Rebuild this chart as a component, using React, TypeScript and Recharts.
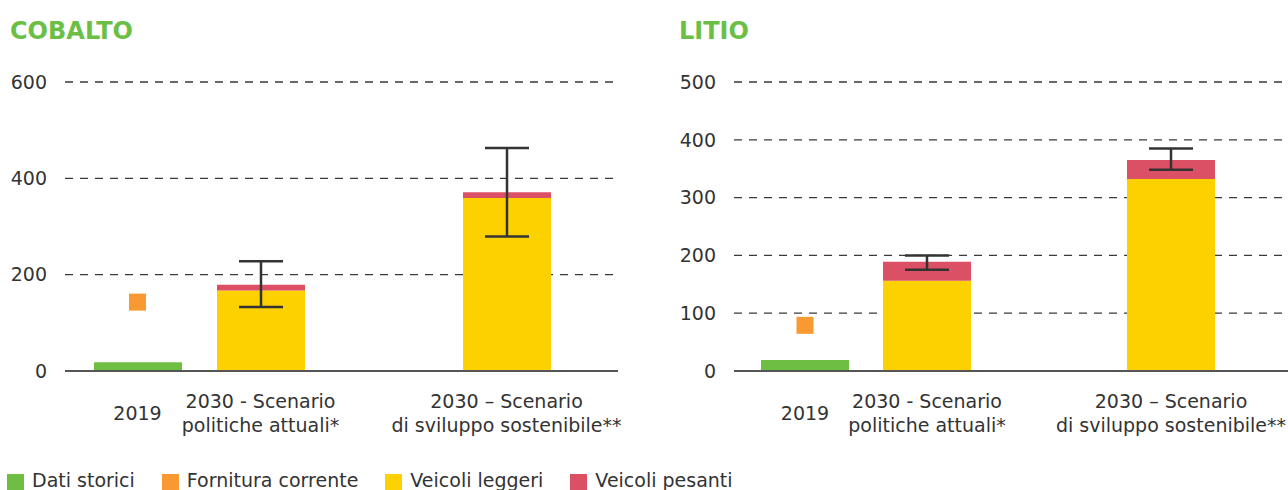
import {
  ComposedChart,
  Bar,
  Scatter,
  XAxis,
  YAxis,
  CartesianGrid,
  ErrorBar,
} from "recharts";

const categories = [
  "2019",
  "2030 - Scenario\npolitiche attuali*",
  "2030 – Scenario\ndi sviluppo sostenibile**",
];

// COBALTO
const cobaltStorici = [18, null, null];
const cobaltFornitura = [143, null, null];
const cobaltLeggeri = [null, 167, 359];
const cobaltPesanti = [null, 12, 12];
const cobaltErr = [null, [46, 49], [92, 92]];
const cobaltTicks = [0, 200, 400, 600];

// LITIO
const litioStorici = [19, null, null];
const litioFornitura = [79, null, null];
const litioLeggeri = [null, 156, 332];
const litioPesanti = [null, 33, 33];
const litioErr = [null, [14, 11], [17, 20]];
const litioTicks = [0, 100, 200, 300, 400, 500];

const series = [
  { key: "storici", name: "Dati storici", color: "#6fbe44" },
  { key: "fornitura", name: "Fornitura corrente", color: "#f89a31" },
  { key: "leggeri", name: "Veicoli leggeri", color: "#fdd100" },
  { key: "pesanti", name: "Veicoli pesanti", color: "#db5064" },
];

const font = "'DejaVu Sans', sans-serif";
const textColor = "#333";

// the two 2030 scenarios sit further apart than 2019 and the first scenario,
// so an empty slot goes in before the last category
function buildRows(storici, fornitura, leggeri, pesanti, err) {
  const rows: any[] = [];
  categories.forEach((cat, i) => {
    if (i === categories.length - 1) rows.push({ cat: "" });
    rows.push({
      cat,
      storici: storici[i],
      fornitura: fornitura[i],
      leggeri: leggeri[i],
      pesanti: pesanti[i],
      err: err[i],
    });
  });
  return rows;
}

const cobaltRows = buildRows(cobaltStorici, cobaltFornitura, cobaltLeggeri, cobaltPesanti, cobaltErr);
const litioRows = buildRows(litioStorici, litioFornitura, litioLeggeri, litioPesanti, litioErr);

function CatTick(props: any) {
  const { x, y, payload } = props;
  const lines = String(payload.value).split("\n");
  const first = lines.length === 1 ? 49 : 37;
  return (
    <text x={x} y={y} textAnchor="middle" fill={textColor} fontSize={19}>
      {lines.map((l, i) => (
        <tspan key={i} x={x} y={y + first + i * 24}>
          {l}
        </tspan>
      ))}
    </text>
  );
}

function Square(props: any) {
  const { cx, cy } = props;
  if (cy == null || isNaN(cy)) return <g />;
  return <rect x={cx - 8.5} y={cy - 8.5} width={17} height={17} fill="#f89a31" />;
}

function Panel({ rows, ticks, max, width, yWidth, marginRight, padding }) {
  return (
    <ComposedChart
      width={width}
      height={460}
      data={rows}
      margin={{ top: 82, right: marginRight, bottom: 29, left: 0 }}
    >
      <CartesianGrid vertical={false} stroke="#3a3a3a" strokeDasharray="8 7" strokeWidth={1.3} />
      <XAxis
        dataKey="cat"
        height={60}
        interval={0}
        tickLine={false}
        tickSize={0}
        tickMargin={0}
        padding={padding}
        axisLine={{ stroke: "#555", strokeWidth: 2 }}
        tick={<CatTick />}
      />
      <YAxis
        type="number"
        domain={[0, max]}
        ticks={ticks}
        width={yWidth}
        axisLine={false}
        tickLine={false}
        tickSize={0}
        tickMargin={18}
        tick={{ fontSize: 19, fill: textColor }}
      />
      <Bar dataKey="storici" stackId="s" fill={series[0].color} barSize={88} isAnimationActive={false} />
      <Bar dataKey="leggeri" stackId="s" fill={series[2].color} barSize={88} isAnimationActive={false} />
      <Bar dataKey="pesanti" stackId="s" fill={series[3].color} barSize={88} isAnimationActive={false}>
        <ErrorBar dataKey="err" width={22} strokeWidth={2.5} stroke="#333" />
      </Bar>
      <Scatter dataKey="fornitura" shape={<Square />} isAnimationActive={false} />
    </ComposedChart>
  );
}

const titleStyle: any = {
  position: "absolute",
  top: 19,
  color: "#6cbf45",
  fontWeight: "bold",
  fontSize: 24,
  lineHeight: "24px",
};

export default function App() {
  return (
    <div
      style={{
        position: "absolute",
        left: 0,
        top: 0,
        width: 1288,
        height: 490,
        overflow: "hidden",
        background: "#fff",
        fontFamily: font,
      }}
    >
      <div style={{ position: "absolute", left: 0, top: 0 }}>
        <Panel
          rows={cobaltRows}
          ticks={cobaltTicks}
          max={600}
          width={640}
          yWidth={65}
          marginRight={22}
          padding={{ left: 11, right: 50 }}
        />
      </div>
      <div style={{ position: "absolute", left: 660, top: 0 }}>
        <Panel
          rows={litioRows}
          ticks={litioTicks}
          max={500}
          width={628}
          yWidth={74}
          marginRight={0}
          padding={{ left: 10, right: 56 }}
        />
      </div>
      <div style={{ ...titleStyle, left: 10 }}>COBALTO</div>
      <div style={{ ...titleStyle, left: 679 }}>LITIO</div>
      <div
        style={{
          position: "absolute",
          left: 7,
          top: 474,
          display: "flex",
          alignItems: "center",
          fontSize: 19,
          color: textColor,
        }}
      >
        {series.map((s) => (
          <div key={s.key} style={{ display: "flex", alignItems: "center", marginRight: 27 }}>
            <div style={{ width: 17, height: 17, background: s.color, marginRight: 8 }} />
            <span style={{ lineHeight: "17px", whiteSpace: "nowrap", position: "relative", top: -2 }}>
              {s.name}
            </span>
          </div>
        ))}
      </div>
    </div>
  );
}
